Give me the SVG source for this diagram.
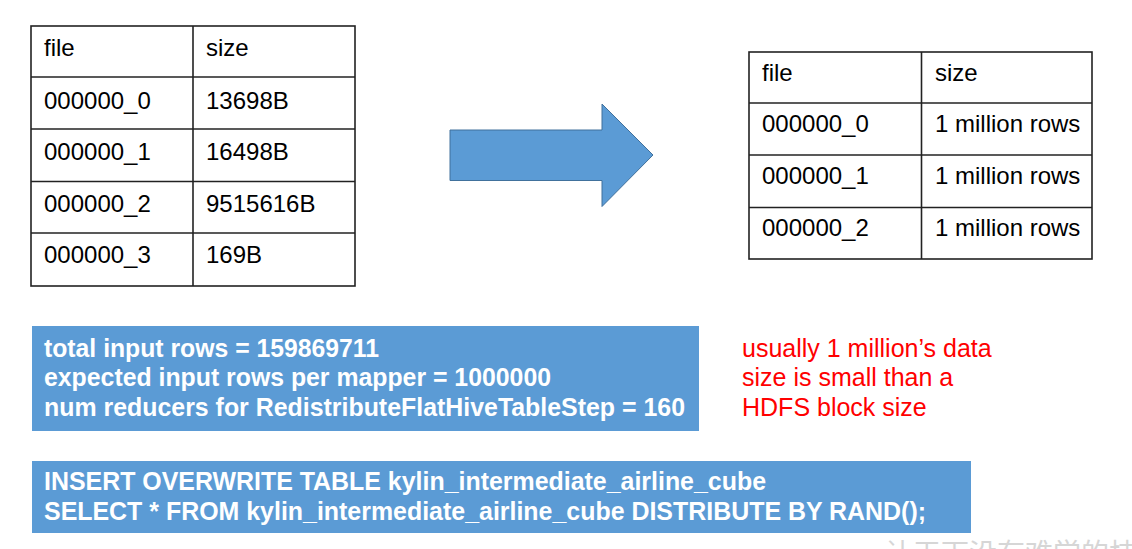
<svg xmlns="http://www.w3.org/2000/svg" width="1132" height="549" viewBox="0 0 1132 549">
  <style>
    .grid { fill: #ffffff; stroke: #222222; stroke-width: 1.6; }
    .line { stroke: #222222; stroke-width: 1.6; }
    .cell { font-family: "Liberation Sans", Arial, sans-serif; font-size: 24px; fill: #000000; }
    .panel { fill: #5B9BD5; }
    .code { font-family: "Liberation Sans", Arial, sans-serif; font-size: 25px; font-weight: bold; fill: #ffffff; }
    .note { font-family: "Liberation Sans", Arial, sans-serif; font-size: 25px; fill: #FF0000; }
    .mark { font-family: "Noto Sans CJK SC", sans-serif; font-size: 28px; fill: #d6d6d6; }
  </style>

  <!-- source files table -->
  <g id="table-before">
    <rect class="grid" x="31" y="26" width="324" height="260"/>
    <line class="line" x1="193" y1="26" x2="193" y2="286"/>
    <line class="line" x1="31" y1="77" x2="355" y2="77"/>
    <line class="line" x1="31" y1="129" x2="355" y2="129"/>
    <line class="line" x1="31" y1="181.5" x2="355" y2="181.5"/>
    <line class="line" x1="31" y1="233" x2="355" y2="233"/>
    <text class="cell" x="44" y="56">file</text>
    <text class="cell" x="206" y="56">size</text>
    <text class="cell" x="44" y="109">000000_0</text>
    <text class="cell" x="206" y="109">13698B</text>
    <text class="cell" x="44" y="160">000000_1</text>
    <text class="cell" x="206" y="160">16498B</text>
    <text class="cell" x="44" y="212">000000_2</text>
    <text class="cell" x="206" y="212">9515616B</text>
    <text class="cell" x="44" y="263">000000_3</text>
    <text class="cell" x="206" y="263">169B</text>
  </g>

  <!-- redistribution arrow -->
  <g id="arrow">
    <path d="M450,130 L602,130 L602,104 L653,155 L602,206.5 L602,180.5 L450,180.5 Z" fill="#5B9BD5" stroke="#41719C" stroke-width="1"/>
  </g>

  <!-- redistributed files table -->
  <g id="table-after">
    <rect class="grid" x="749" y="52" width="343" height="207"/>
    <line class="line" x1="921.5" y1="52" x2="921.5" y2="259"/>
    <line class="line" x1="749" y1="103" x2="1092" y2="103"/>
    <line class="line" x1="749" y1="155" x2="1092" y2="155"/>
    <line class="line" x1="749" y1="207.5" x2="1092" y2="207.5"/>
    <text class="cell" x="762" y="81">file</text>
    <text class="cell" x="935" y="81">size</text>
    <text class="cell" x="762" y="132">000000_0</text>
    <text class="cell" x="935" y="132">1 million rows</text>
    <text class="cell" x="762" y="184">000000_1</text>
    <text class="cell" x="935" y="184">1 million rows</text>
    <text class="cell" x="762" y="236">000000_2</text>
    <text class="cell" x="935" y="236">1 million rows</text>
  </g>

  <!-- reducer statistics -->
  <g id="stats">
    <rect class="panel" x="32" y="326" width="667" height="105"/>
    <text class="code" x="44" y="357" textLength="335" lengthAdjust="spacingAndGlyphs">total input rows = 159869711</text>
    <text class="code" x="44" y="386" textLength="507" lengthAdjust="spacingAndGlyphs">expected input rows per mapper = 1000000</text>
    <text class="code" x="44" y="416" textLength="641" lengthAdjust="spacingAndGlyphs">num reducers for RedistributeFlatHiveTableStep = 160</text>
  </g>

  <!-- note -->
  <g id="note">
    <text class="note" x="742" y="357">usually 1 million’s data</text>
    <text class="note" x="742" y="386">size is small than a</text>
    <text class="note" x="742" y="416">HDFS block size</text>
  </g>

  <!-- HiveQL statement -->
  <g id="sql">
    <rect class="panel" x="32" y="461" width="939" height="72"/>
    <text class="code" x="44" y="490" textLength="722" lengthAdjust="spacingAndGlyphs">INSERT OVERWRITE TABLE kylin_intermediate_airline_cube</text>
    <text class="code" x="44" y="520" textLength="882" lengthAdjust="spacingAndGlyphs">SELECT * FROM kylin_intermediate_airline_cube DISTRIBUTE BY RAND();</text>
  </g>

  <!-- faint slogan at the lower edge -->
  <text class="mark" x="885" y="564">让天下没有难学的技术</text>
</svg>
